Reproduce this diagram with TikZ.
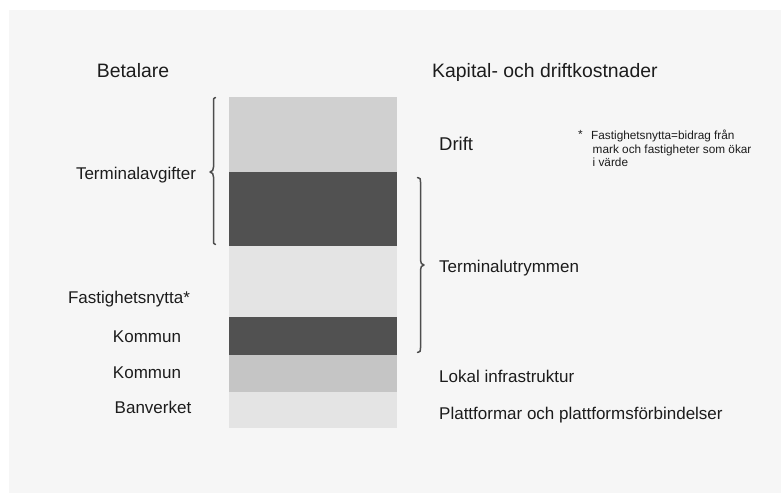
\documentclass[tikz,border=0pt]{standalone}
\usepackage{fontspec}
\setmainfont{Liberation Sans}
\definecolor{panel}{HTML}{F6F6F6}
\definecolor{segA}{HTML}{D0D0D0}
\definecolor{segDark}{HTML}{515151}
\definecolor{segLight}{HTML}{E4E4E4}
\definecolor{segMid}{HTML}{C5C5C5}
\definecolor{ink}{HTML}{1C1C1C}
\definecolor{bracecol}{HTML}{4D4D4D}
\tikzset{
  head/.style={inner sep=0pt, text=ink, font=\fontsize{19.4}{22}\selectfont},
  lab/.style={inner sep=0pt, text=ink, font=\fontsize{17}{20}\selectfont},
  note/.style={inner sep=0pt, text=ink, font=\fontsize{11.8}{13.5}\selectfont, align=left},
  bracepath/.style={draw=bracecol, line width=1.5pt, line cap=round, line join=round},
}
\begin{document}
\begin{tikzpicture}[x=1pt,y=-1pt]
\useasboundingbox (0,0) rectangle (782,494);
\fill[white] (0,0) rectangle (782,494);
\fill[panel] (9,10) rectangle (781,493);
% bar segments
\fill[segA] (229,97) rectangle (397,172);
\fill[segDark] (229,172) rectangle (397,246);
\fill[segLight] (229,246) rectangle (397,317);
\fill[segDark] (229,317) rectangle (397,355);
\fill[segMid] (229,355) rectangle (397,392);
\fill[segLight] (229,392) rectangle (397,428);
% left brace
\draw[bracepath] (215.5,97.5) .. controls (213.5,97.5) and (213.5,99) .. (213.5,102)
  -- (213.5,167) .. controls (213.5,170) and (212.5,171.5) .. (210,172)
  .. controls (212.5,172.5) and (213.5,174) .. (213.5,177)
  -- (213.5,240) .. controls (213.5,243) and (213.5,244.5) .. (215.5,244.5);
% right brace
\draw[bracepath] (417.5,177.5) .. controls (420.5,177.5) and (420.5,179) .. (420.5,182)
  -- (420.5,260) .. controls (420.5,263) and (421.5,264.5) .. (424,265)
  .. controls (421.5,265.5) and (420.5,267) .. (420.5,270)
  -- (420.5,348) .. controls (420.5,351) and (420.5,352.5) .. (417.5,352.5);
% headers
\node[head, anchor=base] (betalare) at (133,78) {Betalare};
\node[head, anchor=base west] (kapital) at (432,78) {Kapital- och driftkostnader};
% left labels
\node[lab, anchor=base] (termavg) at (136,180) {Terminalavgifter};
\node[lab, anchor=base] (fastnytta) at (129,304) {Fastighetsnytta*};
\node[lab, anchor=base] (kommunA) at (147,342) {Kommun};
\node[lab, anchor=base] (kommunB) at (147,378) {Kommun};
\node[lab, anchor=base] (banverket) at (153,413) {Banverket};
% right labels
\node[lab, font=\fontsize{18.5}{21}\selectfont, anchor=base west] (drift) at (439,151) {Drift};
\node[lab, anchor=base west] (termutr) at (439,272.5) {Terminalutrymmen};
\node[lab, anchor=base west] (lokal) at (439,382.5) {Lokal infrastruktur};
\node[lab, anchor=base west] (platt) at (439,419) {Plattformar och plattformsförbindelser};
% footnote
\node[note, anchor=base west] (star) at (578,139) {*};
\node[note, anchor=north west] (foot) at (591,130) {Fastighetsnytta=bidrag från\\\hspace*{1.5pt}mark och fastigheter som ökar\\\hspace*{1.5pt}i värde};
\end{tikzpicture}
\end{document}
